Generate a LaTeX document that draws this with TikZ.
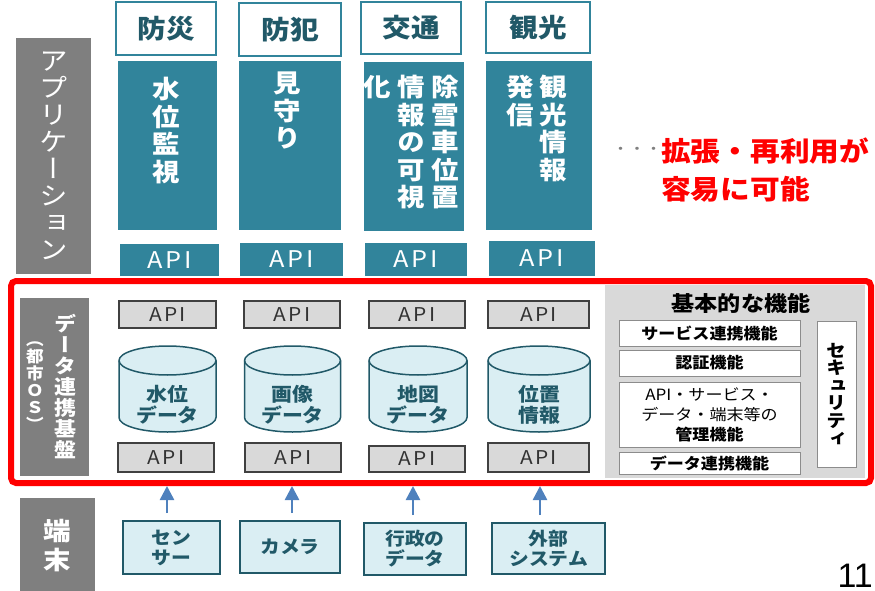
\documentclass[tikz,border=0pt]{standalone}
\usepackage{fontspec}
\setmainfont{Noto Sans CJK JP}[FakeStretch=1.1]
\newfontfamily\vjp{Noto Sans CJK JP}[RawFeature=+vert, FakeStretch=1.1]
\newfontfamily\apifont{Noto Sans CJK JP}[LetterSpace=12, FakeStretch=1.1]
\newfontfamily\numfont{Liberation Sans}
\usetikzlibrary{arrows.meta, calc, positioning}

\definecolor{appteal}{HTML}{31849B}
\definecolor{darkteal}{HTML}{215968}
\definecolor{dbblue}{HTML}{DAEEF3}
\definecolor{layergray}{HTML}{7F7F7F}
\definecolor{apigray}{HTML}{D9D9D9}
\definecolor{feedblue}{HTML}{4F81BD}

\tikzset{
  box/.style={rectangle, inner sep=0pt, outer sep=0pt},
  layer/.style={box, fill=layergray, text=white, align=center},
  hdr/.style={box, draw=appteal, line width=2pt, fill=white, text=darkteal, font=\bfseries\fontsize{26}{28}\selectfont},
  app/.style={box, fill=appteal},
  apptext/.style={inner sep=0pt, anchor=north, text=white, align=center, font=\vjp\bfseries\fontsize{25}{27.5}\selectfont},
  tapi/.style={box, fill=appteal, text=white, font=\apifont\fontsize{23}{25}\selectfont},
  gapi/.style={box, draw=black!75, line width=1.5pt, fill=apigray, text=black!80, font=\apifont\fontsize{19}{21}\selectfont},
  dbcyl/.style={draw=darkteal, line width=1.5pt, fill=dbblue},
  dbtext/.style={inner sep=0pt, text=darkteal, align=center, font=\bfseries\fontsize{19}{21}\selectfont},
  func/.style={box, draw=black!45, line width=1pt, fill=white, align=center, font=\bfseries\fontsize{15.5}{20}\selectfont},
  device/.style={box, draw=darkteal, line width=1.5pt, fill=dbblue, text=darkteal, align=center, font=\bfseries\fontsize{18}{20}\selectfont},
  feed/.style={draw=feedblue, line width=2.5pt, -{Triangle[width=14pt,length=14pt]}, shorten <=8pt},
}

\begin{document}
\begin{tikzpicture}[x=1pt, y=1pt]
  \useasboundingbox (0,0) rectangle (875,-591);
  \def\ry{14.5}

  \node[layer, minimum width=75pt, minimum height=236pt, font=\vjp\fontsize{26}{27}\selectfont] (appl) at (53.5,-156) {ア\\プ\\リ\\ケ\\ー\\シ\\ョ\\ン};

  \node[hdr, minimum width=100pt, minimum height=53pt] (hdrA) at (166,-28.5) {防災};
  \node[hdr, minimum width=102pt, minimum height=53pt] (hdrB) at (290,-29.5) {防犯};
  \node[hdr, minimum width=100pt, minimum height=52pt] (hdrC) at (411,-28) {交通};
  \node[hdr, minimum width=104pt, minimum height=51pt] (hdrD) at (538,-27.5) {観光};

  \node[app, minimum width=99pt, minimum height=169pt] (appA) at (167.5,-145.5) {};
  \node[apptext] (appAtxt) at (166,-77) {水\\位\\監\\視};
  \node[app, minimum width=102pt, minimum height=169pt] (appB) at (290,-145.5) {};
  \node[apptext] (appBtxt) at (287,-72) {見\\守\\り};
  \node[app, minimum width=100pt, minimum height=169pt] (appC) at (414,-146.5) {};
  \node[apptext] (appCtxtA) at (445,-75) {除\\雪\\車\\位\\置};
  \node[apptext] (appCtxtB) at (411,-75) {情\\報\\の\\可\\視};
  \node[apptext] (appCtxtC) at (377,-75) {化};
  \node[app, minimum width=106pt, minimum height=169pt] (appD) at (539,-145.5) {};
  \node[apptext] (appDtxtA) at (553,-75) {観\\光\\情\\報};
  \node[apptext] (appDtxtB) at (520,-75) {発\\信};

  \node[tapi, minimum width=99pt, minimum height=32pt] (tapiA) at (169.5,-260) {API};
  \node[tapi, minimum width=103pt, minimum height=33pt] (tapiB) at (291.5,-259.5) {API};
  \node[tapi, minimum width=102pt, minimum height=33pt] (tapiC) at (416,-259.5) {API};
  \node[tapi, minimum width=106pt, minimum height=35pt] (tapiD) at (542,-258.5) {API};

  \node[text=gray, inner sep=0pt, font=\fontsize{15}{15}\selectfont] (dots) at (637,-151) {・・・};
  \node[anchor=west, align=left, inner sep=0pt, text=red, font=\bfseries\fontsize{27}{38.5}\selectfont] (merit) at (661,-170) {拡張・再利用が\\容易に可能};

  \node[box, draw=red, line width=6pt, rounded corners=5pt, outer sep=3pt, minimum width=860pt, minimum height=202pt] (frame) at (441,-382) {};

  \node[layer, minimum width=69pt, minimum height=178pt] (dpf) at (54.5,-387) {};
  \node[inner sep=0pt, text=white, align=center, font=\vjp\bfseries\fontsize{20}{21}\selectfont] (dpfmain) at (65,-386.5) {デ\\ー\\タ\\連\\携\\基\\盤};
  \node[inner sep=0pt, text=white, align=center, font=\vjp\bfseries\fontsize{16}{17}\selectfont] (dpfsub) at (35,-386.5) {（\\都\\市\\Ｏ\\Ｓ\\）};

  \node[gapi, minimum width=97pt, minimum height=27pt] (gapiA) at (167.5,-314.5) {API};
  \node[gapi, minimum width=96pt, minimum height=27pt] (gapiB) at (292,-314.5) {API};
  \node[gapi, minimum width=96pt, minimum height=27pt] (gapiC) at (417,-314.5) {API};
  \node[gapi, minimum width=101pt, minimum height=27pt] (gapiD) at (538.5,-314.5) {API};

  \foreach \cx/\rx/\name/\txt in {167.5/48.5/dbA/{水位\\データ}, 292.5/48/dbB/{画像\\データ}, 418/49/dbC/{地図\\データ}, 539/51/dbD/{位置\\情報}} {
    \draw[dbcyl] (\cx-\rx,-346-\ry) -- (\cx-\rx,-432+\ry)
      arc[start angle=180, end angle=360, x radius=\rx, y radius=\ry]
      -- (\cx+\rx,-346-\ry)
      arc[start angle=0, end angle=180, x radius=\rx, y radius=\ry] -- cycle;
    \draw[dbcyl, fill=none] (\cx-\rx,-346-\ry) arc[start angle=180, end angle=360, x radius=\rx, y radius=\ry];
    \node[dbtext] (\name) at (\cx,-405) {\txt};
  }

  \node[gapi, minimum width=96pt, minimum height=29pt] (bapiA) at (166,-457.5) {API};
  \node[gapi, minimum width=96pt, minimum height=29pt] (bapiB) at (293,-457.5) {API};
  \node[gapi, minimum width=96pt, minimum height=26pt] (bapiC) at (417,-459) {API};
  \node[gapi, minimum width=101pt, minimum height=29pt] (bapiD) at (538.5,-457.5) {API};

  \node[box, fill=apigray, minimum width=260pt, minimum height=193pt] (panel) at (735,-381.5) {};
  \node[inner sep=0pt, font=\bfseries\fontsize{21}{22}\selectfont] (paneltitle) at (741,-303) {基本的な機能};
  \node[func, minimum width=181pt, minimum height=26pt] (svlink) at (709.5,-333) {サービス連携機能};
  \node[func, minimum width=181pt, minimum height=26pt] (auth) at (709.5,-363) {認証機能};
  \node[func, minimum width=181pt, minimum height=65pt, font=\fontsize{15.5}{20}\selectfont] (mgmt) at (709.5,-414.5) {API・サービス・\\データ・端末等の\\\textbf{管理機能}};
  \node[func, minimum width=181pt, minimum height=22pt] (dlink) at (709.5,-463) {データ連携機能};
  \node[func, minimum width=39pt, minimum height=146pt, font=\vjp\bfseries\fontsize{18}{17.6}\selectfont] (sec) at (836.5,-394) {セ\\キ\\ュ\\リ\\テ\\ィ};

  \node[layer, minimum width=75pt, minimum height=95pt, font=\vjp\bfseries\fontsize{25}{29}\selectfont] (term) at (57.5,-545.5) {端\\末};

  \node[device, minimum width=97pt, minimum height=53pt] (sensor) at (171.5,-547.5) {セン\\サー};
  \node[device, minimum width=100pt, minimum height=52pt] (camera) at (290,-547) {カメラ};
  \node[device, minimum width=102pt, minimum height=52pt] (admin) at (415,-549) {行政の\\データ};
  \node[device, minimum width=113pt, minimum height=51pt] (ext) at (548.5,-548.5) {外部\\システム};

  \draw[feed] ([xshift=-4.5pt]sensor.north) -- ([xshift=-4.5pt]sensor.north |- frame.south);
  \draw[feed] ([xshift=2pt]camera.north) -- ([xshift=2pt]camera.north |- frame.south);
  \draw[feed] ([xshift=-2pt]admin.north) -- ([xshift=-2pt]admin.north |- frame.south);
  \draw[feed] ([xshift=-8.5pt]ext.north) -- ([xshift=-8.5pt]ext.north |- frame.south);

  \node[anchor=base east, inner sep=0pt, font=\numfont\fontsize{34}{34}\selectfont] (pagenum) at (873,-587) {11};
\end{tikzpicture}
\end{document}
